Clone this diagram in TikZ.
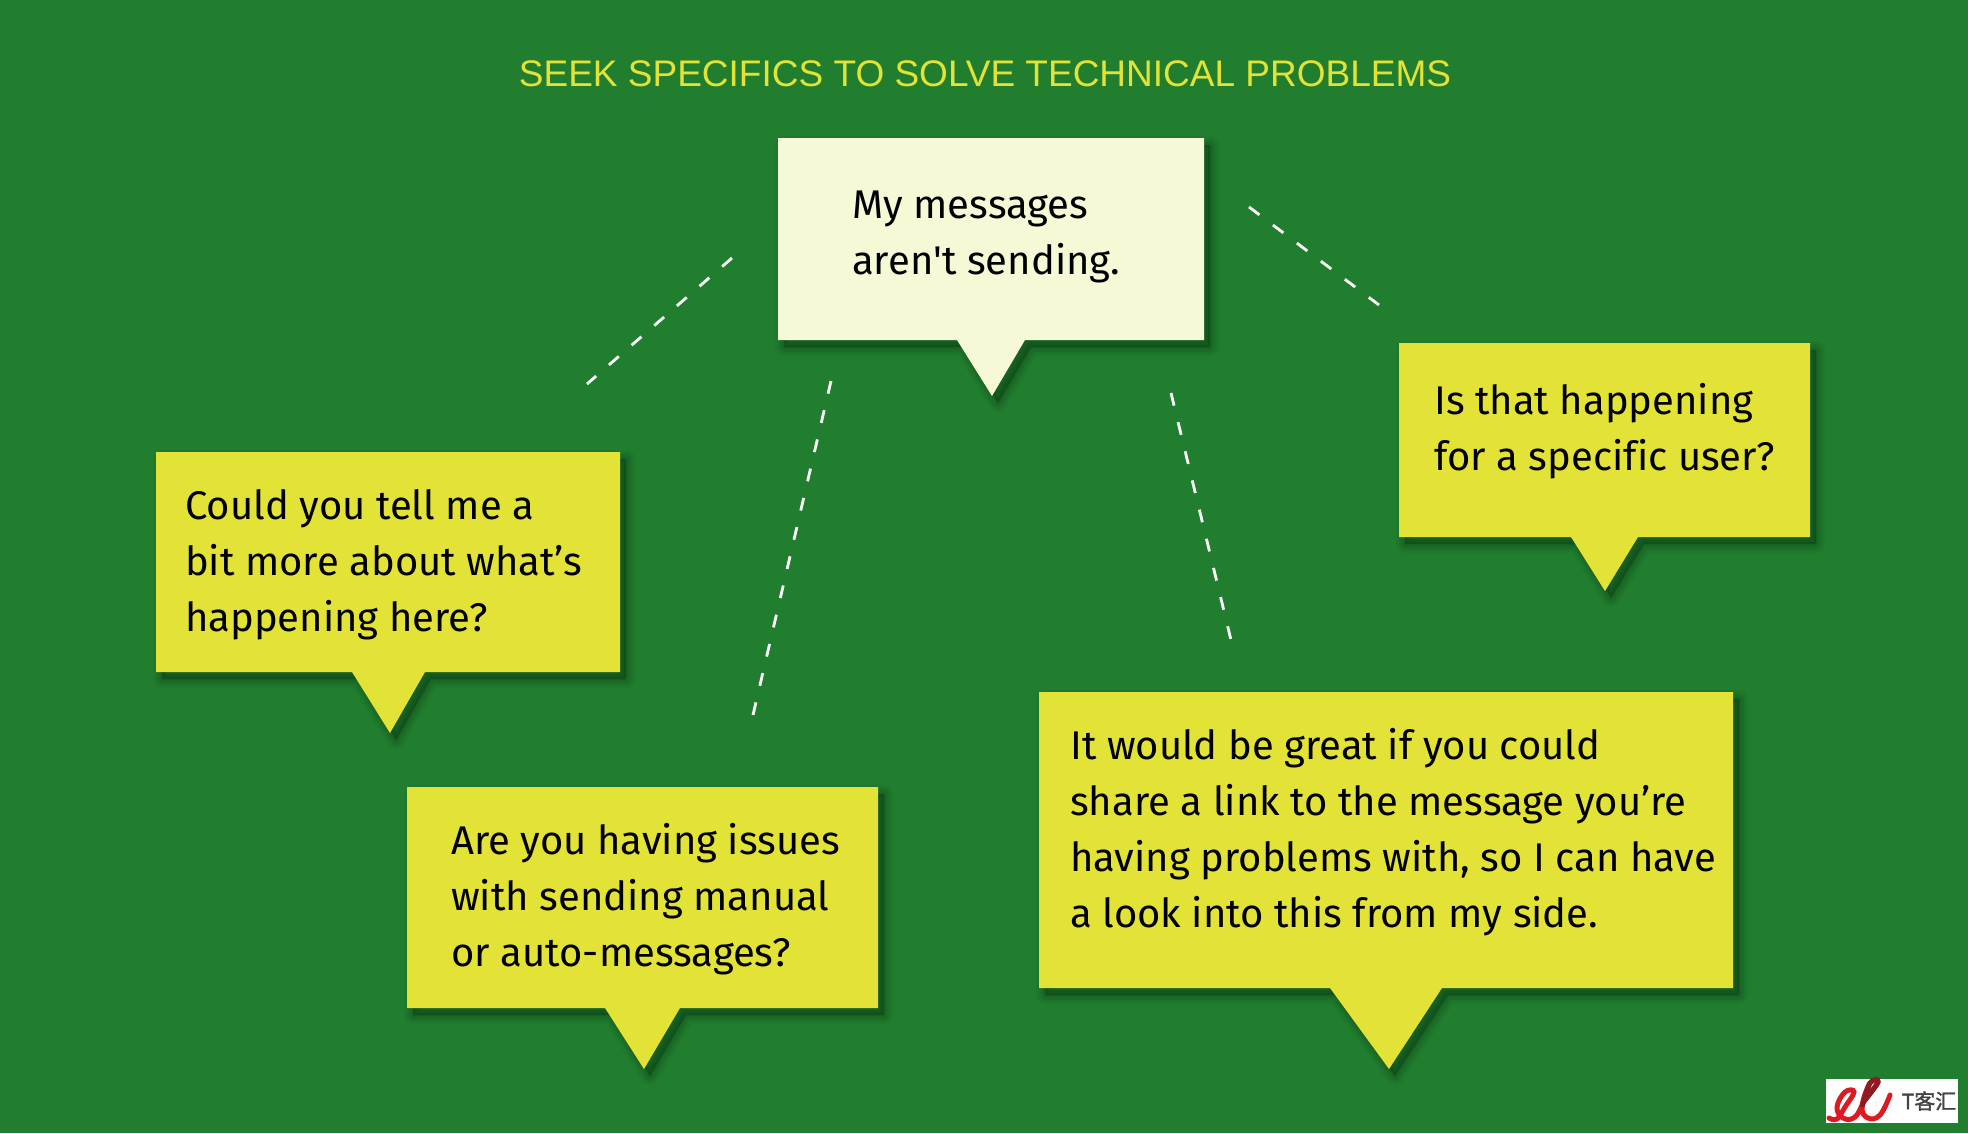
\documentclass[tikz,border=0pt]{standalone}
\usepackage{fontspec}
\setmainfont[Ligatures=NoCommon]{Fira Sans}
\newfontfamily\titlefont{Liberation Sans}
\newfontfamily\straightfont{Fira Sans}
\newfontfamily\cjkfont[FakeBold=1.5]{Noto Sans CJK SC}
\definecolor{bggreen}{HTML}{217E2E}
\definecolor{bubbleyellow}{HTML}{E2E237}
\definecolor{bubblecream}{HTML}{F5F9D5}
\definecolor{logored}{HTML}{DD1A22}
\definecolor{logodark}{HTML}{8E1A24}
\definecolor{logogray}{HTML}{444444}
\tikzset{
    softshadow/.style={
        preaction={fill=black, draw=black, opacity=.035, line width=18pt, line join=round, transform canvas={shift={(6pt,-7pt)}}},
        preaction={fill=black, draw=black, opacity=.045, line width=13pt, line join=round, transform canvas={shift={(6pt,-7pt)}}},
        preaction={fill=black, draw=black, opacity=.055, line width=9pt, line join=round, transform canvas={shift={(6pt,-7pt)}}},
        preaction={fill=black, draw=black, opacity=.06, line width=4pt, line join=round, transform canvas={shift={(6pt,-7pt)}}}
    },
    bubble/.style={softshadow, fill=bubbleyellow},
    bubbletext/.style={anchor=base west, align=left, inner sep=0pt, font=\fontsize{40}{56}\selectfont, text=black},
    dashline/.style={white, line width=2.8pt, dash pattern=on 13pt off 17pt}
}
\begin{document}
\begin{tikzpicture}[x=1pt, y=-1pt]
    \fill[bggreen] (0,0) rectangle (1968,1133);
    \useasboundingbox (0,0) rectangle (1968,1133);

    \node[anchor=base, inner sep=0pt, font=\titlefont\fontsize{37}{46}\selectfont, text=bubbleyellow] (title) at (985,86) {SEEK SPECIFICS TO SOLVE TECHNICAL PROBLEMS};

    % speech bubbles
    \path[bubble, fill=bubblecream] (778,138) -- (1204,138) -- (1204,340) -- (1025,340) -- (992,396) -- (957,340) -- (778,340) -- cycle;
    \path[bubble] (156,452) -- (620,452) -- (620,672) -- (425,672) -- (390,733) -- (352,672) -- (156,672) -- cycle;
    \path[bubble] (1399,343) -- (1810,343) -- (1810,537) -- (1638,537) -- (1605,591) -- (1571,537) -- (1399,537) -- cycle;
    \path[bubble] (407,787) -- (878,787) -- (878,1008) -- (680,1008) -- (644,1069) -- (605,1008) -- (407,1008) -- cycle;
    \path[bubble] (1039,692) -- (1733,692) -- (1733,988) -- (1442,988) -- (1389,1069) -- (1330,988) -- (1039,988) -- cycle;

    \node[bubbletext] (sending) at (852,274) {My messages\\aren{\straightfont '}t sending.};
    \node[bubbletext] (tellme) at (185,631) {Could you tell me a\\bit more about what’s\\happening here?};
    \node[bubbletext] (user) at (1434,470) {Is that happening\\for a specific user?};
    \node[bubbletext] (manual) at (451,966) {Are you having issues\\with sending manual\\or auto-messages?};
    \node[bubbletext] (link) at (1070,927) {It would be great if you could\\share a link to the message you’re\\having problems with, so I can have\\a look into this from my side.};

    % dashed links
    \coordinate (a1) at (732,258);
    \coordinate (a2) at (587,384);
    \coordinate (b1) at (831,381);
    \coordinate (b2) at (753,715);
    \coordinate (c1) at (1171,393);
    \coordinate (c2) at (1231,640);
    \coordinate (d1) at (1249,207);
    \coordinate (d2) at (1379,305);
    \draw[dashline] (a1) -- (a2);
    \draw[dashline] (b1) -- (b2);
    \draw[dashline] (c1) -- (c2);
    \draw[dashline] (d1) -- (d2);

    % logo
    \fill[white] (1826,1079) rectangle (1958,1123);
    \draw[logored, line width=5pt, line cap=round] plot[smooth, tension=.7] coordinates {(1829,1118) (1837,1119) (1845,1107) (1854,1092) (1845,1092) (1837,1107) (1843,1118) (1855,1117) (1865,1100) (1878,1082) (1870,1083) (1862,1107) (1868,1118) (1880,1115) (1890,1095)};
    \draw[logodark, line width=5pt] plot[smooth, tension=.7] coordinates {(1865,1100) (1878,1082) (1870,1083) (1862,1107)};
    \node[inner sep=0pt, text=logogray, font=\cjkfont\fontsize{21}{21}\selectfont] (logotext) at (1929,1101) {T客汇};
\end{tikzpicture}
\end{document}
